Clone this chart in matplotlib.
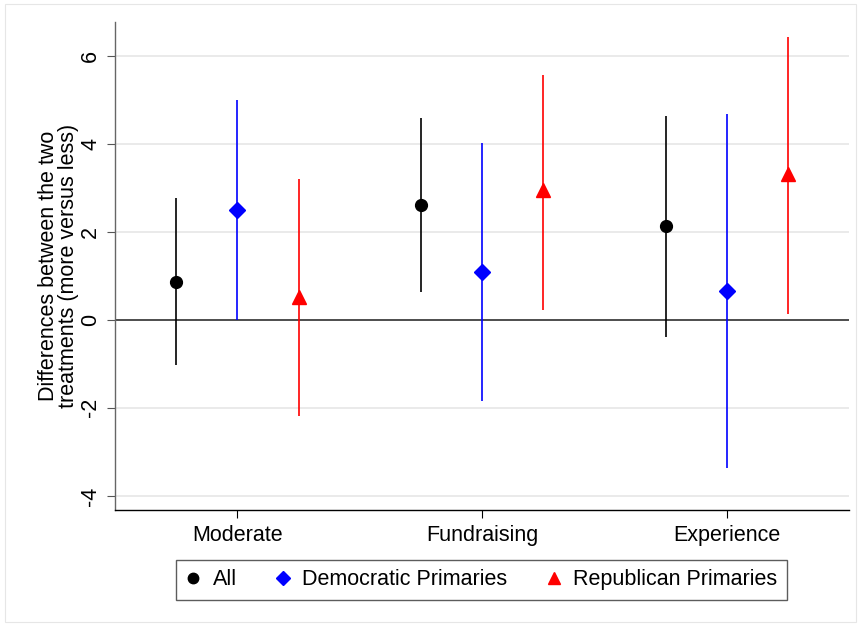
import numpy as np
import matplotlib.pyplot as plt
from matplotlib.lines import Line2D
from matplotlib.patches import Rectangle

plt.rcParams['font.family'] = ['Liberation Sans', 'DejaVu Sans']

categories = ["Moderate", "Fundraising", "Experience"]
series = ["All", "Democratic Primaries", "Republican Primaries"]

est_all = [0.86, 2.61, 2.14]
lo_all = [-1.02, 0.64, -0.39]
hi_all = [2.77, 4.59, 4.64]

est_dem = [2.50, 1.09, 0.66]
lo_dem = [0.00, -1.84, -3.36]
hi_dem = [5.00, 4.02, 4.68]

est_rep = [0.52, 2.95, 3.32]
lo_rep = [-2.18, 0.23, 0.14]
hi_rep = [3.20, 5.57, 6.43]

yticks = [-4, -2, 0, 2, 4, 6]


def main():
    fs = 15.5
    fig = plt.figure(figsize=(8.61, 6.26), dpi=100)
    fig.patches.append(Rectangle((0.006, 0.006), 0.988, 0.988, transform=fig.transFigure,
                                 fill=False, edgecolor="#e6e6e6", linewidth=0.8))
    ax = fig.add_axes([0.1336, 0.1853, 0.853, 0.78])

    x = np.arange(1, len(categories) + 1)
    groups = [
        (est_all, lo_all, hi_all, "black", "o", 8.5, -0.25),
        (est_dem, lo_dem, hi_dem, "blue", "D", 8, 0.0),
        (est_rep, lo_rep, hi_rep, "red", "^", 10, 0.25),
    ]
    handles = []
    for (est, lo, hi, col, mk, ms, off), name in zip(groups, series):
        est = np.array(est)
        xs = x + off
        ax.vlines(xs, lo, hi, color=col, linewidth=1.2, zorder=3)
        ax.plot(xs, est, linestyle="none", marker=mk, markersize=ms, color=col, zorder=4)
        handles.append(Line2D([], [], linestyle="none", marker=mk, markersize=ms - 1,
                              color=col, label=name))

    ax.axhline(0, color="#333333", linewidth=1.2, zorder=2)
    ax.set_xlim(0.5, 3.5)
    ax.set_ylim(-4.32, 6.77)
    ax.set_yticks(yticks)
    ax.set_yticklabels([str(t) for t in yticks], rotation=90, va="center", fontsize=fs)
    ax.set_xticks(x)
    ax.set_xticklabels(categories, fontsize=fs)
    ax.tick_params(axis="y", length=6, width=0.8, color="#555555", pad=4)
    ax.tick_params(axis="x", length=6, width=0.8, color="black", pad=5)
    ax.grid(axis="y", color="#e6e6e6", linewidth=1.2, zorder=0)
    ax.set_axisbelow(True)
    for s in ["top", "right"]:
        ax.spines[s].set_visible(False)
    ax.spines["left"].set_color("#666666")
    ax.spines["left"].set_linewidth(1.0)
    ax.spines["bottom"].set_color("black")
    ax.spines["bottom"].set_linewidth(1.0)

    ax.set_ylabel("Differences between the two\ntreatments (more versus less)",
                  fontsize=fs, linespacing=0.95, labelpad=1)

    leg = fig.legend(handles=handles, loc="center", ncol=3, fontsize=fs,
                     bbox_to_anchor=(0.5592, 0.0735), frameon=True, fancybox=False,
                     edgecolor="#333333", handletextpad=0.55, columnspacing=1.8,
                     borderpad=0.45, handlelength=0.7, borderaxespad=0)
    leg.get_frame().set_linewidth(1.0)

    fig.savefig("out.png", dpi=100)


if __name__ == "__main__":
    main()
